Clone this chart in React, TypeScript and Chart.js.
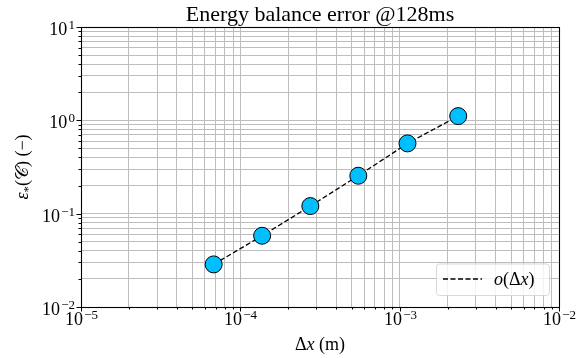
import React, { useEffect, useRef } from 'react';
import { Chart, registerables } from 'chart.js';

Chart.register(...registerables);

// ---- data ----
const DX = [6.8e-5, 1.37e-4, 2.75e-4, 5.5e-4, 1.12e-3, 2.33e-3];
const ERR = [0.0286, 0.058, 0.1206, 0.255, 0.566, 1.11];
const X_DECADES = [-5, -4, -3, -2];
const Y_DECADES = [-2, -1, 0, 1];
const TITLE = 'Energy balance error @128ms';
const SERIES_LABEL = 'o(Δx)';

const SERIF = '"Liberation Serif", "DejaVu Serif", serif';

function logTicks(decades: number[]) {
  const out: number[] = [];
  for (let i = 0; i < decades.length - 1; i++) {
    for (let m = 1; m <= 9; m++) out.push(m * Math.pow(10, decades[i]));
  }
  out.push(Math.pow(10, decades[decades.length - 1]));
  return out;
}
function isMajor(v: number) {
  const l = Math.log10(v);
  return Math.abs(l - Math.round(l)) < 1e-9;
}

type Run = { t: string; f: string; dy?: number };
function runsWidth(ctx: CanvasRenderingContext2D, runs: Run[]) {
  let w = 0;
  for (const r of runs) {
    ctx.font = r.f;
    w += ctx.measureText(r.t).width;
  }
  return w;
}
function drawRuns(ctx: CanvasRenderingContext2D, runs: Run[], x: number, y: number) {
  ctx.textAlign = 'left';
  ctx.textBaseline = 'alphabetic';
  let cx = x;
  for (const r of runs) {
    ctx.font = r.f;
    ctx.fillText(r.t, cx, y + (r.dy || 0));
    cx += ctx.measureText(r.t).width;
  }
}
function powRuns(e: number): Run[] {
  const exp = e < 0 ? '\u2212' + Math.abs(e) : String(e);
  return [
    { t: '10', f: `18px ${SERIF}` },
    { t: '\u2009', f: `6px ${SERIF}` },
    { t: exp, f: `13px ${SERIF}`, dy: -6 },
  ];
}

const decor = {
  id: 'decor',
  afterDraw(chart: any) {
    const { ctx, chartArea: a, scales } = chart;
    const xs = scales.x;
    const ys = scales.y;
    ctx.save();
    ctx.fillStyle = '#000';
    ctx.strokeStyle = '#000';

    // spines
    ctx.lineWidth = 1.1;
    ctx.strokeRect(Math.round(a.left) + 0.5, Math.round(a.top) + 0.5, Math.round(a.right - a.left), Math.round(a.bottom - a.top));

    // ticks
    ctx.lineWidth = 1;
    for (const t of xs.ticks) {
      const px = Math.round(xs.getPixelForValue(t.value)) + 0.5;
      const len = isMajor(t.value) ? 4.5 : 2.5;
      ctx.beginPath();
      ctx.moveTo(px, a.bottom);
      ctx.lineTo(px, a.bottom + len);
      ctx.stroke();
      if (isMajor(t.value)) {
        const runs = powRuns(Math.round(Math.log10(t.value)));
        const w = runsWidth(ctx, runs);
        drawRuns(ctx, runs, px - w / 2, a.bottom + 18);
      }
    }
    for (const t of ys.ticks) {
      const py = Math.round(ys.getPixelForValue(t.value)) + 0.5;
      const len = isMajor(t.value) ? 4.5 : 2.5;
      ctx.beginPath();
      ctx.moveTo(a.left, py);
      ctx.lineTo(a.left - len, py);
      ctx.stroke();
      if (isMajor(t.value)) {
        const runs = powRuns(Math.round(Math.log10(t.value)));
        const w = runsWidth(ctx, runs);
        drawRuns(ctx, runs, a.left - 6 - w, py + 7);
      }
    }

    // title
    const cxm = (a.left + a.right) / 2;
    const tr: Run[] = [{ t: TITLE, f: `22px ${SERIF}` }];
    drawRuns(ctx, tr, cxm - runsWidth(ctx, tr) / 2, 21);

    // x title
    const xr: Run[] = [
      { t: 'Δ', f: `18px ${SERIF}` },
      { t: 'x', f: `italic 18px ${SERIF}` },
      { t: ' (m)', f: `18px ${SERIF}` },
    ];
    drawRuns(ctx, xr, cxm - runsWidth(ctx, xr) / 2, 350);

    // y title
    const yr: Run[] = [
      { t: 'ε', f: `italic 18px ${SERIF}` },
      { t: '*', f: `13px ${SERIF}`, dy: 4 },
      { t: '(', f: `18px ${SERIF}` },
      { t: '𝒞', f: `18px ${SERIF}` },
      { t: ')', f: `18px ${SERIF}` },
      { t: ' (\u2212)', f: `18px ${SERIF}` },
    ];
    const cym = (a.top + a.bottom) / 2;
    ctx.save();
    ctx.translate(28, cym);
    ctx.rotate(-Math.PI / 2);
    drawRuns(ctx, yr, -runsWidth(ctx, yr) / 2, 0);
    ctx.restore();

    // legend
    const bw = 113, bh = 31.5;
    const bx = a.right - 10 - bw;
    const by = a.bottom - 12 - bh;
    ctx.beginPath();
    (ctx as any).roundRect(bx + 0.5, by + 0.5, bw, bh, 3);
    ctx.fillStyle = 'rgba(255,255,255,0.8)';
    ctx.fill();
    ctx.strokeStyle = '#d8d8d8';
    ctx.lineWidth = 1;
    ctx.stroke();
    const ds = chart.data.datasets[0];
    ctx.strokeStyle = ds.borderColor;
    ctx.lineWidth = ds.borderWidth;
    ctx.setLineDash(ds.borderDash);
    ctx.beginPath();
    ctx.moveTo(bx + 7, by + 15.5);
    ctx.lineTo(bx + 46, by + 15.5);
    ctx.stroke();
    ctx.setLineDash([]);
    ctx.fillStyle = '#000';
    const label: string = ds.label;
    const lr: Run[] = label.split('').map((ch) => ({
      t: ch,
      f: /[a-z]/.test(ch) ? `italic 18px ${SERIF}` : `18px ${SERIF}`,
    }));
    drawRuns(ctx, lr, bx + 58, by + 21);

    ctx.restore();
  },
};

export default function App() {
  const ref = useRef<HTMLCanvasElement>(null);
  useEffect(() => {
    document.body.style.margin = '0';
    const chart = new Chart(ref.current as HTMLCanvasElement, {
      type: 'scatter',
      data: {
        datasets: [
          {
            label: SERIES_LABEL,
            data: DX.map((x, i) => ({ x, y: ERR[i] })),
            showLine: true,
            borderColor: '#000',
            borderWidth: 1.3,
            borderDash: [5, 2.5],
            pointRadius: 8.5,
            pointBackgroundColor: '#00bfff',
            pointBorderColor: '#000',
            pointBorderWidth: 1,
          } as any,
        ],
      },
      options: {
        responsive: false,
        animation: false,
        devicePixelRatio: 1,
        layout: { padding: { top: 27, right: 17, left: 0, bottom: 0 } },
        plugins: {
          legend: { display: false },
          title: { display: false },
          tooltip: { enabled: false },
        },
        scales: {
          x: {
            type: 'logarithmic',
            min: 1e-5,
            max: 1e-2,
            afterBuildTicks: (s: any) => {
              s.ticks = logTicks(X_DECADES).map((v) => ({ value: v }));
            },
            afterFit: (s: any) => {
              s.height = 51;
            },
            ticks: { display: false },
            grid: { color: '#bdbdbd', lineWidth: 1, drawTicks: false },
            border: { display: false },
          },
          y: {
            type: 'logarithmic',
            min: 1e-2,
            max: 1e1,
            afterBuildTicks: (s: any) => {
              s.ticks = logTicks(Y_DECADES).map((v) => ({ value: v }));
            },
            afterFit: (s: any) => {
              s.width = 81;
            },
            ticks: { display: false },
            grid: { color: '#bdbdbd', lineWidth: 1, drawTicks: false },
            border: { display: false },
          },
        },
      } as any,
      plugins: [decor],
    });
    return () => chart.destroy();
  }, []);
  return (
    <div style={{ width: 576, height: 358 }}>
      <canvas ref={ref} width={576} height={358} style={{ display: 'block' }} />
    </div>
  );
}
